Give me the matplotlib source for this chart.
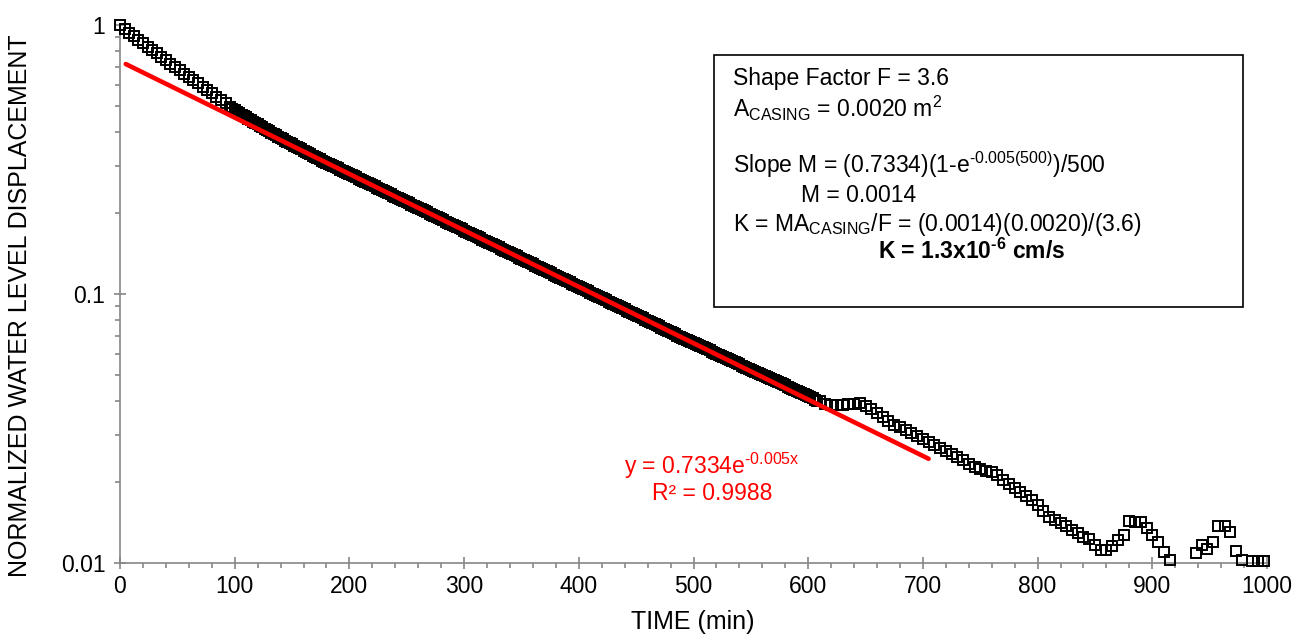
import matplotlib
matplotlib.use('Agg')
import matplotlib.pyplot as plt
from matplotlib.ticker import FixedLocator, LogLocator, NullFormatter
from matplotlib.patches import Rectangle

# ---- data ----
# early readings (sparser)
t_early = [0, 4, 8, 12, 16, 20, 24, 28, 32, 36, 40, 44, 48, 52, 56, 60,
           64, 68, 72, 76, 80, 84, 88, 92, 96]
y_early = [1.0000, 0.9664, 0.9362, 0.9078, 0.8811, 0.8551, 0.8306, 0.8068,
           0.7837, 0.7610, 0.7393, 0.7187, 0.6984, 0.6791, 0.6601, 0.6417,
           0.6238, 0.6065, 0.5896, 0.5731, 0.5572, 0.5417, 0.5266, 0.5119,
           0.4977]

# dense readings, every 2 min from 98 to 608
t_dense = list(range(98, 610, 2))
y_dense = [
    0.4892,
    0.4828, 0.4766, 0.4704, 0.4646, 0.4590,
    0.4534, 0.4479, 0.4425, 0.4371, 0.4321,
    0.4269, 0.4217, 0.4166, 0.4115, 0.4069,
    0.4023, 0.3977, 0.3932, 0.3888, 0.3844,
    0.3804, 0.3761, 0.3718, 0.3679, 0.3638,
    0.3599, 0.3559, 0.3521, 0.3482, 0.3445,
    0.3409, 0.3374, 0.3338, 0.3304, 0.3269,
    0.3226, 0.3197, 0.3164, 0.3133, 0.3105,
    0.3075, 0.3044, 0.3016, 0.2985, 0.2958,
    0.2930, 0.2902, 0.2872, 0.2846, 0.2819,
    0.2791, 0.2765, 0.2737, 0.2712, 0.2686,
    0.2660, 0.2633, 0.2609, 0.2583, 0.2559,
    0.2534, 0.2510, 0.2486, 0.2461, 0.2438,
    0.2415, 0.2391, 0.2369, 0.2345, 0.2323,
    0.2301, 0.2279, 0.2256, 0.2235, 0.2214,
    0.2192, 0.2171, 0.2151, 0.2129, 0.2109,
    0.2089, 0.2069, 0.2049, 0.2029, 0.2010,
    0.1991, 0.1971, 0.1952, 0.1934, 0.1915,
    0.1897, 0.1878, 0.1860, 0.1842, 0.1825,
    0.1807, 0.1790, 0.1773, 0.1755, 0.1739,
    0.1722, 0.1705, 0.1689, 0.1673, 0.1657,
    0.1641, 0.1625, 0.1609, 0.1594, 0.1579,
    0.1563, 0.1548, 0.1533, 0.1519, 0.1504,
    0.1490, 0.1475, 0.1461, 0.1447, 0.1433,
    0.1419, 0.1406, 0.1392, 0.1379, 0.1366,
    0.1353, 0.1340, 0.1327, 0.1314, 0.1301,
    0.1289, 0.1276, 0.1264, 0.1252, 0.1240,
    0.1228, 0.1216, 0.1205, 0.1193, 0.1181,
    0.1170, 0.1159, 0.1148, 0.1137, 0.1126,
    0.1115, 0.1104, 0.1094, 0.1083, 0.1073,
    0.1062, 0.1052, 0.1042, 0.1032, 0.1022,
    0.1012, 0.1002, 0.0993, 0.0983, 0.0974,
    0.0965, 0.0955, 0.0946, 0.0937, 0.0928,
    0.0919, 0.0910, 0.0901, 0.0893, 0.0884,
    0.0876, 0.0867, 0.0859, 0.0851, 0.0842,
    0.0834, 0.0826, 0.0818, 0.0811, 0.0803,
    0.0795, 0.0787, 0.0780, 0.0772, 0.0765,
    0.0758, 0.0750, 0.0743, 0.0736, 0.0729,
    0.0722, 0.0715, 0.0708, 0.0701, 0.0694,
    0.0688, 0.0681, 0.0675, 0.0668, 0.0662,
    0.0658, 0.0652, 0.0646, 0.0640, 0.0634,
    0.0629, 0.0623, 0.0617, 0.0611, 0.0606,
    0.0600, 0.0594, 0.0589, 0.0583, 0.0578,
    0.0573, 0.0568, 0.0563, 0.0557, 0.0552,
    0.0547, 0.0542, 0.0537, 0.0532, 0.0527,
    0.0523, 0.0518, 0.0513, 0.0508, 0.0504,
    0.0500, 0.0495, 0.0491, 0.0486, 0.0482,
    0.0478, 0.0473, 0.0469, 0.0465, 0.0461,
    0.0457, 0.0453, 0.0448, 0.0444, 0.0440,
    0.0436, 0.0432, 0.0428, 0.0425, 0.0421,
    0.0417, 0.0413, 0.0409, 0.0405, 0.0401,
]

# late readings (every 5 min, then irregular)
t_late = list(range(610, 920, 5)) + [938, 943, 948, 953, 957, 963, 968,
                                     973, 978, 987, 992, 997]
y_late = [0.0400, 0.0391, 0.0388, 0.0388, 0.0388, 0.0389, 0.0390, 0.0394,
          0.0384, 0.0374, 0.0361, 0.0348, 0.0337, 0.0327, 0.0320, 0.0311,
          0.0305, 0.0297, 0.0289, 0.0281, 0.0275, 0.0268, 0.0261, 0.0254,
          0.0247, 0.0241, 0.0234, 0.0228, 0.0223, 0.0219, 0.0217, 0.0212,
          0.0204, 0.0197, 0.0190, 0.0184, 0.0178, 0.0171, 0.0164, 0.0156,
          0.0148, 0.0144, 0.0141, 0.0137, 0.0133, 0.0129, 0.0125, 0.0123,
          0.0117, 0.0112, 0.0112, 0.0116, 0.0122, 0.0127, 0.0143, 0.0142,
          0.0142, 0.0135, 0.0127, 0.0120, 0.0110, 0.0103,
          0.0109, 0.0117, 0.0113, 0.0120, 0.0137, 0.0137, 0.0130, 0.0111,
          0.0103, 0.0102, 0.0102, 0.0102]

# exponential trendline end points
fit_t = [5, 705]
fit_y = [0.716, 0.0244]

x_ticks = list(range(0, 1001, 100))
y_ticks = [0.01, 0.1, 1]
y_tick_labels = ['0.01', '0.1', '1']

GRAY = '#868686'
FS = 16.5      # tick labels / annotations
FS_TITLE = 18  # axis titles
HY = '\u2010'  # plain hyphen inside superscripts

plt.rcParams['font.family'] = ['Liberation Sans', 'DejaVu Sans']
plt.rcParams['mathtext.fontset'] = 'custom'
plt.rcParams['mathtext.rm'] = 'Liberation Sans'
plt.rcParams['mathtext.it'] = 'Liberation Sans:italic'
plt.rcParams['mathtext.bf'] = 'Liberation Sans:bold'

W, H = 1306, 641
fig = plt.figure(figsize=(W / 100, H / 100), dpi=100)
ax = fig.add_axes([120 / W, 1 - 563 / H, (1267 - 120) / W, (563 - 25) / H])

t_all = t_early + t_dense + t_late
y_all = y_early + y_dense + y_late
ax.plot(t_all, y_all, ls='none', marker='s', ms=7.2, mfc='none', mec='black',
        mew=1.4, clip_on=False, zorder=3)
ax.plot(fit_t, fit_y, color='#ff0000', lw=3.3, solid_capstyle='round', zorder=4)

ax.set_yscale('log')
ax.set_xlim(0, 1000)
ax.set_ylim(0.01, 1)

for side in ['top', 'right']:
    ax.spines[side].set_visible(False)
for side in ['left', 'bottom']:
    ax.spines[side].set_color(GRAY)
    ax.spines[side].set_linewidth(1.2)

ax.xaxis.set_major_locator(FixedLocator(x_ticks))
ax.xaxis.set_minor_locator(FixedLocator(list(range(0, 1001, 20))))
ax.set_xticklabels([str(v) for v in x_ticks])
ax.yaxis.set_major_locator(FixedLocator(y_ticks))
ax.yaxis.set_minor_locator(LogLocator(base=10, subs=range(2, 10)))
ax.yaxis.set_minor_formatter(NullFormatter())
ax.set_yticklabels(y_tick_labels)

ax.tick_params(axis='both', which='major', direction='inout', length=9,
               width=1.2, color=GRAY, labelsize=FS)
ax.tick_params(axis='both', which='minor', direction='out', length=3.8,
               width=1.2, color=GRAY)
ax.tick_params(axis='x', which='major', pad=4)
ax.tick_params(axis='y', which='major', pad=6)

fig.text(693 / W, 1 - 622 / H, 'TIME (min)', ha='center', va='center',
         fontsize=FS_TITLE)
fig.text(20 / W, 1 - 306 / H, 'NORMALIZED WATER LEVEL DISPLACEMENT', ha='center',
         va='center', rotation=90, fontsize=FS_TITLE)

# trendline label
fig.text(712 / W, 1 - 466 / H, r'y = 0.7334e$^{\mathrm{' + HY + '0.005x}}$',
         color='#ff0000', ha='center', va='center', fontsize=FS)
fig.text(712 / W, 1 - 494 / H, 'R² = 0.9988', color='#ff0000',
         ha='center', va='center', fontsize=FS)

# calculation box
fig.add_artist(Rectangle((714 / W, 1 - 307 / H), (1243 - 714) / W, (307 - 55) / H,
                         transform=fig.transFigure, facecolor='white',
                         edgecolor='black', lw=1.2, zorder=5))
box_lines = [
    (733, 78, 'Shape Factor F = 3.6', 'normal'),
    (733, 108, r'A$_{\mathrm{CASING}}$ = 0.0020 m$^{\mathrm{2}}$', 'normal'),
    (733, 165, r'Slope M = (0.7334)(1-e$^{\mathrm{' + HY + '0.005(500)}}$)/500',
     'normal'),
    (801, 195, 'M = 0.0014', 'normal'),
    (733, 224, r'K = MA$_{\mathrm{CASING}}$/F = (0.0014)(0.0020)/(3.6)', 'normal'),
    (878, 251, r'K = 1.3x10$^{\mathbf{' + HY + '6}}$ cm/s', 'bold'),
]
for x, y, s, wt in box_lines:
    fig.text(x / W, 1 - y / H, s, ha='left', va='center', fontsize=FS,
             fontweight=wt, zorder=6)

fig.savefig('out.png', dpi=100)
